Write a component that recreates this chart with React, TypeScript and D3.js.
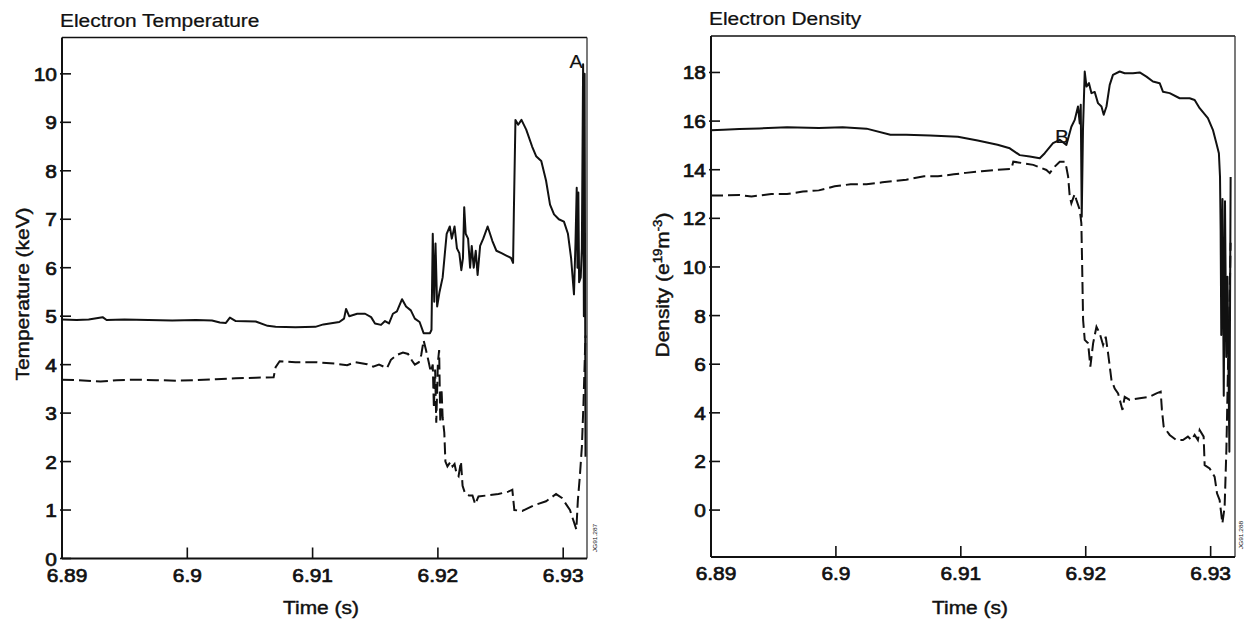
import React from "react";
import * as d3 from "d3";

// ---------- data ----------
const timeTicks = [6.89, 6.9, 6.91, 6.92, 6.93];
const timeTickLabels = ["6.89", "6.9", "6.91", "6.92", "6.93"];
const tempTicks = [0, 1, 2, 3, 4, 5, 6, 7, 8, 9, 10];
const densTicks = [0, 2, 4, 6, 8, 10, 12, 14, 16, 18];

// Electron temperature, solid trace (keV)
const tempSolid: [number, number][] = [
  [6.89, 4.93], [6.89117, 4.92], [6.89213, 4.93], [6.89324, 4.98], [6.89356, 4.92],
  [6.89498, 4.93], [6.89689, 4.92], [6.89879, 4.91], [6.9007, 4.92], [6.90197, 4.91],
  [6.9026, 4.87], [6.90308, 4.86], [6.9034, 4.97], [6.90387, 4.9], [6.90546, 4.89],
  [6.90641, 4.8], [6.90705, 4.78], [6.90863, 4.77], [6.91022, 4.78], [6.91086, 4.83],
  [6.91213, 4.88], [6.91251, 4.95], [6.91267, 5.15], [6.91292, 5.0], [6.91356, 5.05],
  [6.91419, 5.05], [6.91467, 4.98], [6.91498, 4.85], [6.91546, 4.82], [6.91578, 4.9],
  [6.9161, 4.85], [6.91641, 5.05], [6.91673, 5.1], [6.91714, 5.35], [6.91746, 5.2],
  [6.91784, 5.12], [6.91816, 4.95], [6.91854, 4.88], [6.91886, 4.65], [6.91937, 4.65],
  [6.91949, 4.72], [6.91959, 6.7], [6.91971, 5.3], [6.91981, 6.5], [6.91994, 5.2],
  [6.92013, 5.5], [6.92038, 5.8], [6.9207, 6.7], [6.92095, 6.85], [6.92111, 6.6],
  [6.92133, 6.85], [6.92152, 6.4], [6.92171, 6.3], [6.92187, 5.95], [6.922, 6.2],
  [6.9221, 7.25], [6.92222, 6.7], [6.92241, 6.6], [6.92257, 6.0], [6.9227, 6.45],
  [6.92286, 6.0], [6.92302, 6.35], [6.92317, 5.85], [6.92337, 6.45], [6.92362, 6.6],
  [6.92397, 6.85], [6.92435, 6.55], [6.92467, 6.35], [6.92508, 6.3], [6.92546, 6.25],
  [6.92584, 6.2], [6.926, 6.1], [6.92606, 7.1], [6.92619, 9.05], [6.92641, 8.95],
  [6.92667, 9.05], [6.92705, 8.85], [6.92752, 8.5], [6.92784, 8.3], [6.92825, 8.2],
  [6.92863, 7.8], [6.92895, 7.3], [6.92927, 7.1], [6.92965, 7.0], [6.93006, 6.95],
  [6.93038, 6.7], [6.93063, 6.2], [6.93086, 5.45], [6.93098, 6.5], [6.93108, 7.65],
  [6.93114, 6.0], [6.93121, 7.55], [6.93127, 5.7], [6.9314, 5.8], [6.93149, 6.4],
  [6.93159, 10.2], [6.93165, 5.0], [6.93171, 10.0], [6.93178, 2.1],
];

// Electron temperature, dashed trace (keV)
const tempDashed: [number, number][] = [
  [6.89, 3.69], [6.89117, 3.68], [6.89308, 3.65], [6.89435, 3.68], [6.89594, 3.69],
  [6.89752, 3.68], [6.89911, 3.67], [6.9007, 3.68], [6.90229, 3.7], [6.90387, 3.72],
  [6.90546, 3.73], [6.90689, 3.74], [6.90705, 3.95], [6.90737, 4.07], [6.90863, 4.05],
  [6.91022, 4.05], [6.91181, 4.02], [6.91276, 3.99], [6.9134, 4.05], [6.91435, 4.01],
  [6.91483, 3.96], [6.9153, 4.0], [6.91594, 3.93], [6.91625, 4.1], [6.91673, 4.2],
  [6.91721, 4.25], [6.91762, 4.22], [6.91794, 4.08], [6.91816, 4.0], [6.91848, 4.05],
  [6.91867, 4.2], [6.91886, 4.5], [6.91905, 4.3], [6.91927, 4.05], [6.91943, 3.85],
  [6.91959, 4.0], [6.91968, 3.1], [6.91978, 3.9], [6.91987, 2.8], [6.92, 4.05],
  [6.9201, 4.3], [6.92019, 2.8], [6.92029, 3.5], [6.92038, 2.9], [6.92051, 2.6],
  [6.9206, 2.0], [6.92076, 1.9], [6.92102, 2.0], [6.92117, 1.9], [6.92133, 1.95],
  [6.92149, 1.75], [6.92165, 1.7], [6.92184, 2.0], [6.92197, 1.5], [6.92216, 1.35],
  [6.92248, 1.3], [6.92276, 1.3], [6.92298, 1.12], [6.92324, 1.28], [6.92387, 1.3],
  [6.92483, 1.33], [6.92562, 1.38], [6.92594, 1.42], [6.9261, 1.0], [6.92673, 0.98],
  [6.92768, 1.1], [6.92863, 1.18], [6.92943, 1.33], [6.9299, 1.25], [6.93054, 1.0],
  [6.93086, 0.75], [6.93105, 0.6], [6.93117, 1.2], [6.93133, 1.7], [6.93149, 2.3],
  [6.93162, 3.2], [6.93171, 4.0], [6.93178, 4.6],
];

// Electron density, solid trace (1e19 m^-3)
const densSolid: [number, number][] = [
  [6.89, 15.62], [6.891, 15.64], [6.89227, 15.67], [6.89386, 15.7], [6.89609, 15.75],
  [6.89863, 15.72], [6.90054, 15.75], [6.90245, 15.69], [6.90436, 15.44], [6.90563, 15.44],
  [6.90754, 15.41], [6.90976, 15.36], [6.91135, 15.2], [6.91294, 15.03], [6.91392, 14.88],
  [6.91472, 14.6], [6.91552, 14.54], [6.91632, 14.47], [6.91672, 14.68], [6.91738, 15.09],
  [6.91792, 15.23], [6.91845, 15.02], [6.91885, 15.77], [6.91912, 16.05], [6.91938, 16.6],
  [6.91952, 15.9], [6.9196, 16.67], [6.91968, 12.07], [6.91978, 15.64], [6.91992, 18.04],
  [6.92006, 17.42], [6.92026, 17.56], [6.92046, 17.15], [6.92072, 17.2], [6.92098, 16.74],
  [6.92126, 16.6], [6.92144, 16.26], [6.92166, 16.6], [6.92192, 17.49], [6.92218, 17.9],
  [6.92272, 18.04], [6.92312, 17.97], [6.92378, 17.97], [6.92432, 18.0], [6.92486, 17.83],
  [6.92538, 17.63], [6.92592, 17.56], [6.92618, 17.21], [6.92672, 17.15], [6.92752, 16.94],
  [6.92832, 16.94], [6.92872, 16.87], [6.92912, 16.53], [6.92978, 16.12], [6.93018, 15.64],
  [6.93046, 15.09], [6.93066, 14.68], [6.93075, 13.7], [6.9308, 11.5], [6.93085, 7.2],
  [6.93095, 12.8], [6.93105, 4.7], [6.93115, 12.7], [6.93125, 6.3], [6.93135, 9.6],
  [6.9315, 2.4], [6.9316, 13.7],
];

// Electron density, dashed trace (1e19 m^-3)
const densDashed: [number, number][] = [
  [6.89, 12.94], [6.891, 12.94], [6.89227, 12.96], [6.89324, 12.9], [6.89482, 13.0],
  [6.89609, 13.0], [6.89736, 13.1], [6.89863, 13.15], [6.8999, 13.32], [6.90118, 13.4],
  [6.90245, 13.4], [6.90372, 13.48], [6.90563, 13.59], [6.90706, 13.73], [6.90817, 13.73],
  [6.90944, 13.81], [6.9104, 13.87], [6.91167, 13.94], [6.91294, 14.0], [6.91405, 14.03],
  [6.9142, 14.33], [6.9146, 14.3], [6.9158, 14.2], [6.91685, 13.99], [6.91712, 13.86],
  [6.91752, 14.13], [6.91792, 14.33], [6.91832, 14.33], [6.91845, 14.1], [6.91859, 13.72],
  [6.91872, 12.9], [6.91885, 12.62], [6.91912, 13.0], [6.91925, 12.76], [6.91952, 12.35],
  [6.91965, 11.8], [6.91971, 10.16], [6.91979, 7.82], [6.91992, 7.0], [6.92019, 6.86],
  [6.92037, 5.9], [6.92059, 6.86], [6.92086, 7.54], [6.92112, 7.27], [6.92139, 6.79],
  [6.9216, 7.13], [6.92179, 6.45], [6.92206, 5.35], [6.92232, 5.0], [6.92259, 4.8],
  [6.92294, 4.12], [6.92312, 4.66], [6.92352, 4.53], [6.92432, 4.6], [6.92512, 4.66],
  [6.92566, 4.8], [6.926, 4.87], [6.9261, 4.12], [6.92624, 3.43], [6.92672, 3.09],
  [6.92726, 2.88], [6.92778, 2.88], [6.92818, 3.02], [6.92846, 2.88], [6.92872, 3.09],
  [6.92898, 2.88], [6.92912, 3.29], [6.92944, 3.02], [6.92952, 1.85], [6.92992, 1.71],
  [6.93032, 1.37], [6.93051, 0.69], [6.93072, 0.41], [6.93094, -0.55], [6.93112, 0.14],
  [6.93126, 2.47], [6.93139, 5.9], [6.93152, 8.64], [6.9316, 11.0],
];

// ---------- drawing ----------
const FONT = "'Liberation Sans', Arial, Helvetica, sans-serif";
const SX = 1.1;

type TProps = {
  x: number; y: number; size?: number; anchor?: string; rotate?: number;
  weight?: number; children?: React.ReactNode;
};
function T({ x, y, size = 19, anchor = "start", rotate = 0, weight = 0.45, children }: TProps) {
  return (
    <text
      transform={`translate(${x},${y}) rotate(${rotate}) scale(${SX},1)`}
      fontSize={size}
      textAnchor={anchor as any}
      fontFamily={FONT}
      fill="#111"
      stroke="#111"
      strokeWidth={weight}
    >
      {children}
    </text>
  );
}

type PanelProps = {
  id: string;
  left: number; right: number; top: number; bottom: number;
  xDomain: [number, number];
  yDomain: [number, number];
  yTicks: number[];
  solid: [number, number][];
  dashed: [number, number][];
  title: string;
  yLabel: React.ReactNode;
  yLabelX: number;
  yLabelY: number;
  xLabelX: number;
};

function Panel(p: PanelProps) {
  const xs = d3.scaleLinear().domain(p.xDomain).range([p.left, p.right]);
  const ys = d3.scaleLinear().domain(p.yDomain).range([p.bottom, p.top]);
  const line = d3
    .line<[number, number]>()
    .x((d) => xs(d[0]))
    .y((d) => ys(d[1]));
  return (
    <g>
      <defs>
        <clipPath id={`clip-${p.id}`}>
          <rect x={p.left} y={p.top} width={p.right - p.left} height={p.bottom - p.top} />
        </clipPath>
      </defs>
      {/* title */}
      <T x={p.left - 2} y={p.top - 11} weight={0.25}>{p.title}</T>
      {/* frame */}
      <line x1={p.left} x2={p.right} y1={p.top} y2={p.top} stroke="#111" strokeWidth={1.6} />
      <line x1={p.right} x2={p.right} y1={p.top} y2={p.bottom} stroke="#333" strokeWidth={1.3} />
      <line x1={p.left} x2={p.left} y1={p.top} y2={p.bottom} stroke="#111" strokeWidth={2} />
      <line x1={p.left} x2={p.right} y1={p.bottom} y2={p.bottom} stroke="#111" strokeWidth={2} />
      {/* y ticks */}
      {p.yTicks.map((t) => (
        <g key={`y${t}`}>
          <line x1={p.left - 2} x2={p.left + 9} y1={ys(t)} y2={ys(t)} stroke="#111" strokeWidth={1.6} />
          <T x={p.left - 5} y={ys(t) + 7} anchor="end" weight={0.7}>{String(t)}</T>
        </g>
      ))}
      {/* x ticks */}
      {timeTicks.map((t, i) => (
        <g key={`x${t}`}>
          <line x1={xs(t)} x2={xs(t)} y1={p.bottom} y2={p.bottom - 11} stroke="#111" strokeWidth={1.6} />
          <T x={xs(t) + (i === 0 ? 5 : 0)} y={p.bottom + 23} anchor="middle" weight={0.7}>{timeTickLabels[i]}</T>
        </g>
      ))}
      {/* axis titles */}
      <T x={p.xLabelX} y={614} anchor="middle">Time (s)</T>
      <T x={p.yLabelX} y={p.yLabelY} anchor="middle" rotate={-90}>{p.yLabel}</T>
      {/* traces */}
      <g clipPath={`url(#clip-${p.id})`}>
        <path d={line(p.dashed) || ""} fill="none" stroke="#111" strokeWidth={2} strokeDasharray="12,5" />
        <path d={line(p.solid) || ""} fill="none" stroke="#111" strokeWidth={2} strokeLinejoin="round" />
      </g>
    </g>
  );
}

export default function App() {
  return (
    <svg
      width={1244}
      height={621}
      viewBox="0 0 1244 621"
      style={{ position: "absolute", left: 0, top: 0, background: "#fff" }}
    >
      <rect x={0} y={0} width={1244} height={621} fill="#fff" />
      <Panel
        id="temp"
        left={62} right={587} top={37.5} bottom={558.5}
        xDomain={[6.89, 6.9319]}
        yDomain={[0, 10.75]}
        yTicks={tempTicks}
        solid={tempSolid}
        dashed={tempDashed}
        title="Electron Temperature"
        yLabel="Temperature (keV)"
        yLabelX={29}
        yLabelY={294}
        xLabelX={321}
      />
      <Panel
        id="dens"
        left={711} right={1235} top={36} bottom={557}
        xDomain={[6.89, 6.93195]}
        yDomain={[-1.93, 19.5]}
        yTicks={densTicks}
        solid={densSolid}
        dashed={densDashed}
        title="Electron Density"
        yLabel={
          <>
            Density (e<tspan fontSize={12} dy={-7}>19</tspan>
            <tspan dy={7}>m</tspan>
            <tspan fontSize={12} dy={-7}>-3</tspan>
            <tspan dy={7}>)</tspan>
          </>
        }
        yLabelX={669}
        yLabelY={285}
        xLabelX={970}
      />
      {/* markers */}
      <T x={576} y={68} anchor="middle" size={18} weight={0.2}>A</T>
      <T x={1062} y={143} anchor="middle" size={19} weight={0.2}>B</T>
      <T x={597} y={538} anchor="middle" size={6} rotate={-90} weight={0}>JG91.287</T>
      <T x={1243} y={535} anchor="middle" size={6} rotate={-90} weight={0}>JG91.288</T>
    </svg>
  );
}
